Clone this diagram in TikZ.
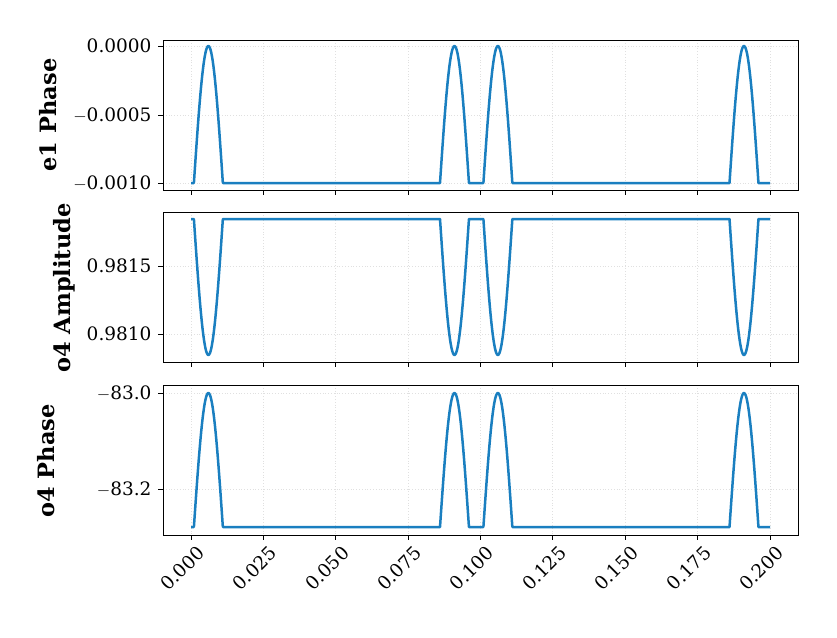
\documentclass[tikz,border=0pt]{standalone}
\usepackage{fontspec}
\setmainfont{DejaVu Serif}
\definecolor{sigc}{HTML}{1A7FC0}
\newcommand\sigpath[2]{%
\draw[sig] (191,#1) -- (193.9,#1)
 -- plot[domain=0:180,samples=41] ({193.9+28.95*\x/180},{#1+#2*sin(\x)})
 -- (440,#1)
 -- plot[domain=0:180,samples=41] ({440+28.95*\x/180},{#1+#2*sin(\x)})
 -- (483.4,#1)
 -- plot[domain=0:180,samples=41] ({483.4+28.95*\x/180},{#1+#2*sin(\x)})
 -- (729.5,#1)
 -- plot[domain=0:180,samples=41] ({729.5+28.95*\x/180},{#1+#2*sin(\x)})
 -- (770,#1);}
\begin{document}
\begin{tikzpicture}[x=1pt,y=-1pt,
  sig/.style={draw=sigc,line width=2.5pt,line join=round},
  gridl/.style={draw=black!12,dotted,line width=0.8pt},
  frame/.style={draw=black,line width=1pt},
  tickl/.style={font=\fontsize{18.5}{22}\selectfont,anchor=east},
  xtl/.style={font=\fontsize{18.5}{22}\selectfont,anchor=north east,rotate=45,inner sep=1pt},
  ylab/.style={font=\fontsize{22.5}{26}\selectfont\bfseries,rotate=90}]
\path[use as bounding box] (0,0) rectangle (837,637);
\foreach \t/\b in {40/190,212/362,385/535}{
  \foreach \i in {0,...,8}{
    \pgfmathsetmacro\xx{191+72.375*\i}
    \draw[gridl] (\xx,\t) -- (\xx,\b);
    \draw[line width=1pt] (\xx,\b) -- (\xx,\b+5);
  }
}
\foreach \y/\l/\n in {46/{0.0000}/a1,115/{$-$0.0005}/a2,183/{$-$0.0010}/a3,
                      266/{0.9815}/b1,334/{0.9810}/b2,
                      393/{$-$83.0}/c1,489/{$-$83.2}/c2}{
  \draw[gridl] (163,\y) -- (798,\y);
  \draw[line width=1pt] (163,\y) -- (158,\y);
  \node[tickl] (\n) at (155,\y) {\l};
}
\sigpath{183}{-137}
\sigpath{219}{136}
\sigpath{527}{-134}
\draw[frame] (163,40) rectangle (798,190);
\draw[frame] (163,212) rectangle (798,362);
\draw[frame] (163,385) rectangle (798,535);
\foreach \i/\l in {0/0.000,1/0.025,2/0.050,3/0.075,4/0.100,5/0.125,6/0.150,7/0.175,8/0.200}{
  \pgfmathsetmacro\xx{191+72.375*\i}
  \node[xtl] (xt\i) at (\xx+5,543) {\l};
}
\node[ylab] (l1) at (48,115) {e1 Phase};
\node[ylab] (l2) at (64,288) {o4 Amplitude};
\node[ylab] (l3) at (46,461) {o4 Phase};
\end{tikzpicture}
\end{document}
